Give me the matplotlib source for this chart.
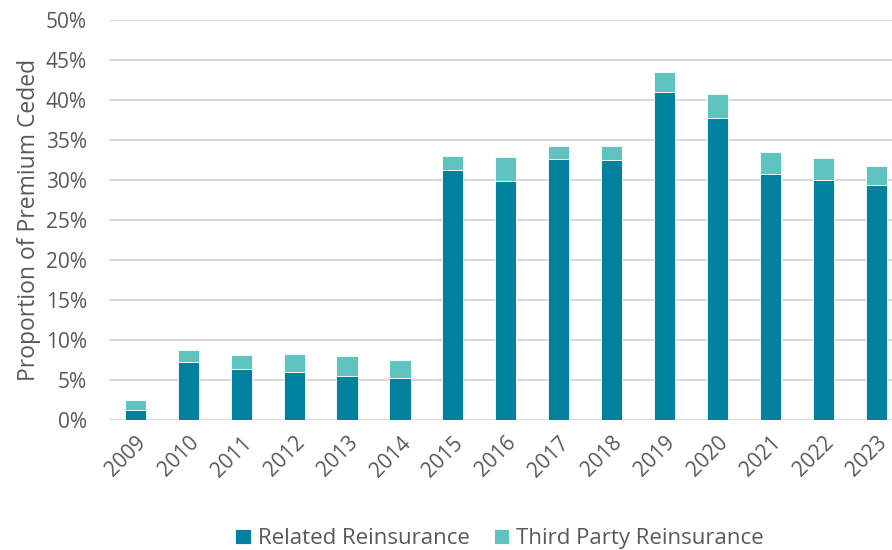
import matplotlib.pyplot as plt
import numpy as np

plt.rcParams['font.family'] = ['Open Sans', 'DejaVu Sans']

years = ['2009', '2010', '2011', '2012', '2013', '2014', '2015', '2016',
         '2017', '2018', '2019', '2020', '2021', '2022', '2023']
related = [1.2, 7.3, 6.4, 6.0, 5.5, 5.2, 31.2, 29.9, 32.6, 32.5, 41.0, 37.7, 30.8, 30.0, 29.4]
third_party = [1.3, 1.4, 1.7, 2.2, 2.5, 2.3, 1.8, 3.0, 1.6, 1.8, 2.5, 3.0, 2.7, 2.7, 2.4]

c_related = '#00829F'
c_third = '#5FC4C0'
grey = '#595959'

fig = plt.figure(figsize=(8.92, 5.5), dpi=100)
ax = fig.add_axes([0.1222, 0.2364, 0.8778, 0.7272])

x = np.arange(len(years))
ax.bar(x, related, width=0.4, color=c_related, edgecolor='white', linewidth=0.6,
       label='Related Reinsurance', zorder=3)
ax.bar(x, third_party, width=0.4, bottom=related, color=c_third, edgecolor='white',
       linewidth=0.6, label='Third Party Reinsurance', zorder=3)

ax.set_ylim(0, 50)
ax.set_xlim(-0.5, 14.3)
ax.set_yticks(np.arange(0, 51, 5))
ax.set_yticklabels([f'{v}%' for v in range(0, 51, 5)])
ax.yaxis.grid(True, color='#D9D9D9', linewidth=1.4, zorder=0)
ax.set_axisbelow(True)
for s in ax.spines.values():
    s.set_visible(False)

ax.set_xticks(x)
ax.set_xticklabels(years, rotation=45, ha='right', rotation_mode='anchor')
ax.tick_params(axis='both', length=0, labelsize=15, colors=grey)
ax.tick_params(axis='x', pad=9)
ax.tick_params(axis='y', pad=16)
ax.set_ylabel('Proportion of Premium Ceded', fontsize=16.5, color=grey, labelpad=3)

fig.legend(loc='lower center', bbox_to_anchor=(0.56, -0.035), ncol=2, frameon=False,
           fontsize=16, labelcolor=grey, handlelength=0.7, handleheight=0.7,
           handletextpad=0.3, columnspacing=1.1)

fig.savefig('out.png', dpi=100)
